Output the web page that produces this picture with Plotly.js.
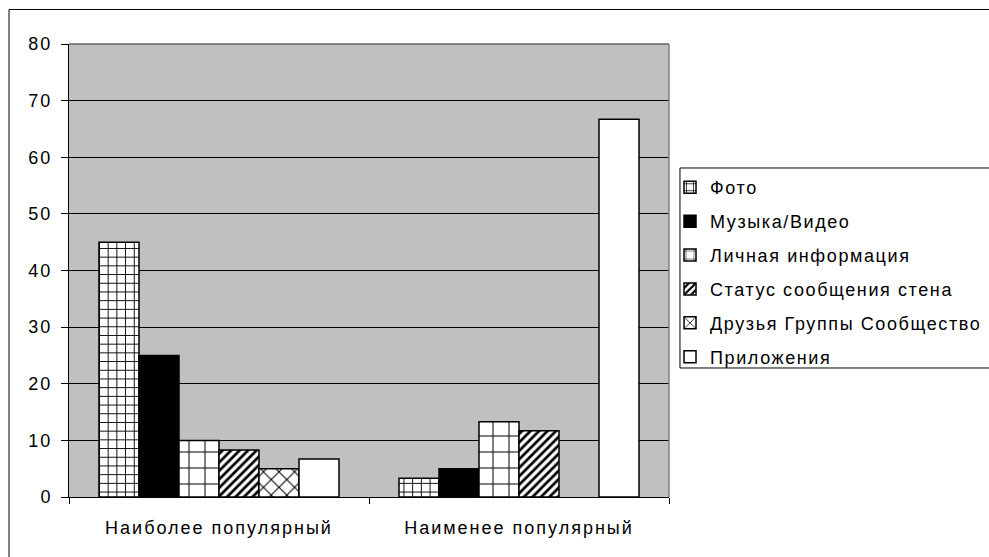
<!DOCTYPE html>
<html>
<head>
<meta charset="utf-8">
<script src="https://cdn.plot.ly/plotly-3.0.1.min.js"></script>
<style>
html,body{margin:0;padding:0;background:#fff;}
#chart{width:989px;height:557px;}
#chart svg text{letter-spacing:2px;}
#chart .legend text{letter-spacing:1.6px;}
#chart .legend, #chart .legend g, #chart .legend .scrollbox{clip-path:none !important;}
</style>
</head>
<body>
<div id="chart"></div>
<script>
const categories = ['Наиболее популярный', 'Наименее популярный'];
const seriesNames = ['Фото', 'Музыка/Видео', 'Личная информация', 'Статус сообщения стена', 'Друзья Группы Сообщество', 'Приложения'];
const foto = [45, 3.3];
const muzyka = [25, 5];
const lichnaya = [10, 13.3];
const status = [8.3, 11.7];
const druzya = [5, null];
const prilozheniya = [6.7, 66.7];
const yTicks = [0, 10, 20, 30, 40, 50, 60, 70, 80];

const seriesValues = [foto, muzyka, lichnaya, status, druzya, prilozheniya];
const styles = [
  {color: '#ffffff', pattern: {shape: '+', fgcolor: '#000000', bgcolor: '#ffffff', size: 8.7, solidity: 0.2}},
  {color: '#000000'},
  {color: '#ffffff', pattern: {shape: '+', fgcolor: '#000000', bgcolor: '#ffffff', size: 16, solidity: 0.12}},
  {color: '#ffffff', pattern: {shape: '/', fgcolor: '#000000', bgcolor: '#ffffff', size: 6, solidity: 0.45}},
  {color: '#ffffff', pattern: {shape: 'x', fgcolor: '#000000', bgcolor: '#ffffff', size: 11, solidity: 0.18}},
  {color: '#ffffff'}
];

const FONT = 'Liberation Sans, Arial, sans-serif';

const traces = seriesNames.map((name, i) => ({
  type: 'bar',
  name: name,
  x: categories,
  y: seriesValues[i],
  legendgroup: 'g' + i,
  marker: Object.assign({line: {color: '#000000', width: 1.5}}, styles[i]),
  hoverinfo: 'y+name'
}));

const layout = {
  width: 989,
  height: 557,
  margin: {l: 69, r: 320, t: 44, b: 60},
  paper_bgcolor: '#ffffff',
  plot_bgcolor: '#c0c0c0',
  barmode: 'group',
  bargap: 0.2,
  bargroupgap: 0,
  font: {family: FONT, size: 18, color: '#000000'},
  xaxis: {
    type: 'category',
    tickson: 'boundaries',
    ticks: 'outside',
    ticklen: 6,
    tickcolor: '#000000',
    tickwidth: 1,
    showline: true,
    linecolor: '#000000',
    linewidth: 1,
    showgrid: false,
    ticklabelstandoff: 14,
    tickfont: {family: FONT, size: 18, color: '#000000'}
  },
  yaxis: {
    range: [0, 80],
    tickvals: yTicks,
    ticks: 'outside',
    ticklen: 7,
    tickcolor: '#000000',
    showline: true,
    linecolor: '#000000',
    linewidth: 1,
    showgrid: true,
    gridcolor: '#000000',
    gridwidth: 1,
    zeroline: false,
    ticklabelstandoff: 5,
    tickfont: {family: FONT, size: 18, color: '#000000'}
  },
  legend: {
    x: 1.0017,
    xanchor: 'left',
    y: 0.724,
    yanchor: 'top',
    traceorder: 'grouped',
    tracegroupgap: 7.5,
    bgcolor: 'rgba(0,0,0,0)',
    borderwidth: 0,
    font: {family: FONT, size: 18, color: '#000000'},
    itemwidth: 30
  },
  shapes: [
    {type: 'rect', xref: 'paper', yref: 'paper', x0: -0.1, x1: 1.6, y0: -0.3, y1: 1.0762, line: {color: '#000000', width: 1}},
    {type: 'rect', xref: 'paper', yref: 'paper', x0: 1.0183, x1: 1.6, y0: 0.2848, y1: 0.7263, line: {color: '#000000', width: 1}},
    {type: 'line', xref: 'paper', yref: 'paper', x0: 0, x1: 1, y0: 1, y1: 1, line: {color: '#666666', width: 1.5}},
    {type: 'line', xref: 'paper', yref: 'paper', x0: 1, x1: 1, y0: 0, y1: 1, line: {color: '#808080', width: 1.5}}
  ],
  showlegend: true
};

Plotly.newPlot('chart', traces, layout, {displayModeBar: false, staticPlot: true});
</script>
</body>
</html>
